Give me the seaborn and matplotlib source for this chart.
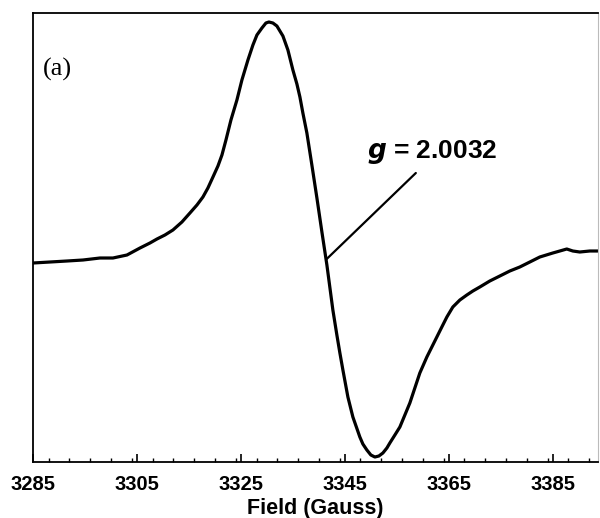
import numpy as np
import pandas as pd
import matplotlib
matplotlib.use("Agg")
import matplotlib.pyplot as plt
import seaborn as sns
from matplotlib.ticker import MultipleLocator

# Field (Gauss) and first-derivative EPR intensity (arbitrary units)
field = [3285.00, 3288.27, 3291.54, 3294.62, 3297.88, 3300.38, 3303.08, 3305.58, 3307.50, 3308.85,
         3310.38, 3311.92, 3313.65, 3315.19, 3316.54, 3317.69, 3318.65, 3319.62, 3320.58, 3321.35,
         3322.12, 3323.08, 3324.23, 3325.19, 3326.35, 3327.31, 3328.08, 3329.04, 3329.81, 3330.38,
         3331.15, 3331.92, 3333.08, 3334.04, 3335.00, 3335.77, 3336.35, 3336.92, 3337.69, 3338.65,
         3339.62, 3340.58, 3341.54, 3342.69, 3343.46, 3344.04, 3344.62, 3345.58, 3346.54, 3347.88,
         3348.46, 3349.23, 3350.00, 3350.77, 3351.54, 3352.31, 3353.08, 3353.65, 3354.62, 3355.58,
         3356.54, 3357.50, 3358.46, 3359.42, 3360.77, 3361.73, 3362.69, 3363.65, 3364.62, 3365.77,
         3367.12, 3368.46, 3369.62, 3370.96, 3372.88, 3374.81, 3376.73, 3378.65, 3380.58, 3382.50,
         3385.00, 3386.35, 3387.69, 3388.85, 3390.19, 3392.12, 3393.65]
intensity = [0, 1, 2, 3, 5, 5, 8, 15, 20, 24,
             28, 33, 41, 50, 58, 66, 75, 86, 97, 108,
             123, 143, 163, 183, 203, 218, 228, 235, 240, 241,
             240, 237, 227, 213, 193, 179, 166, 150, 130, 98,
             65, 31, -2, -47, -72, -90, -107, -134, -154, -174,
             -181, -187, -192, -194, -193, -190, -185, -180, -172, -164,
             -152, -140, -125, -110, -94, -84, -74, -64, -54, -44,
             -37, -32, -28, -24, -18, -13, -8, -4, 1, 6,
             10, 12, 14, 12, 11, 12, 12]

x_ticks = [3285, 3305, 3325, 3345, 3365, 3385]
x_label = "Field (Gauss)"
panel_label = "(a)"
g_label = r"$\boldsymbol{g}$ = 2.0032"

df = pd.DataFrame({"Field": field, "Intensity": intensity})

sns.set_style("white")
plt.rcParams["font.family"] = ["Liberation Sans", "DejaVu Sans"]
plt.rcParams["mathtext.fontset"] = "custom"
plt.rcParams["mathtext.it"] = "Liberation Sans:italic:bold"
plt.rcParams["mathtext.bf"] = "Liberation Sans:italic:bold"
plt.rcParams["mathtext.rm"] = "Liberation Sans:bold"
plt.rcParams["text.color"] = "black"
plt.rcParams["axes.labelcolor"] = "black"
plt.rcParams["xtick.color"] = "black"

fig = plt.figure(figsize=(6.0, 5.18), dpi=100)
ax = fig.add_axes([0.055, 0.1081, 0.9417, 0.8668])

sns.lineplot(data=df, x="Field", y="Intensity", ax=ax, color="black",
             linewidth=2.3, sort=False, estimator=None)
for ln in ax.lines:
    ln.set_solid_joinstyle("round")
    ln.set_solid_capstyle("round")

ax.set_xlim(3285, 3393.7)
ax.set_ylim(-199, 250)

ax.set_xticks(x_ticks)
ax.set_xticklabels([str(t) for t in x_ticks], fontsize=14.5, fontweight="bold")
ax.xaxis.set_minor_locator(MultipleLocator(4))
ax.tick_params(axis="x", which="major", direction="in", length=6, width=1.2,
               bottom=True, top=False, pad=9, colors="black")
ax.tick_params(axis="x", which="minor", direction="in", length=3, width=1.0,
               bottom=True, top=False)
ax.set_yticks([])
ax.set_ylabel("")
ax.set_xlabel(x_label, fontsize=15.5, fontweight="bold", labelpad=3)

for side in ["left", "top", "bottom"]:
    ax.spines[side].set_color("black")
    ax.spines[side].set_linewidth(1.3)
ax.spines["right"].set_color("#bbbbbb")
ax.spines["right"].set_linewidth(0.8)

# annotation line and label
ax.plot([3341.5, 3358.65], [4, 90], color="black", linewidth=1.6)
ax.text(3361.9, 111, g_label, fontsize=19, fontweight="bold", ha="center", va="center")
ax.text(0.018, 0.875, panel_label, transform=ax.transAxes, fontsize=19,
        family=["Liberation Serif", "DejaVu Serif"], ha="left", va="center")

fig.savefig("out.png", dpi=100, facecolor="white")
